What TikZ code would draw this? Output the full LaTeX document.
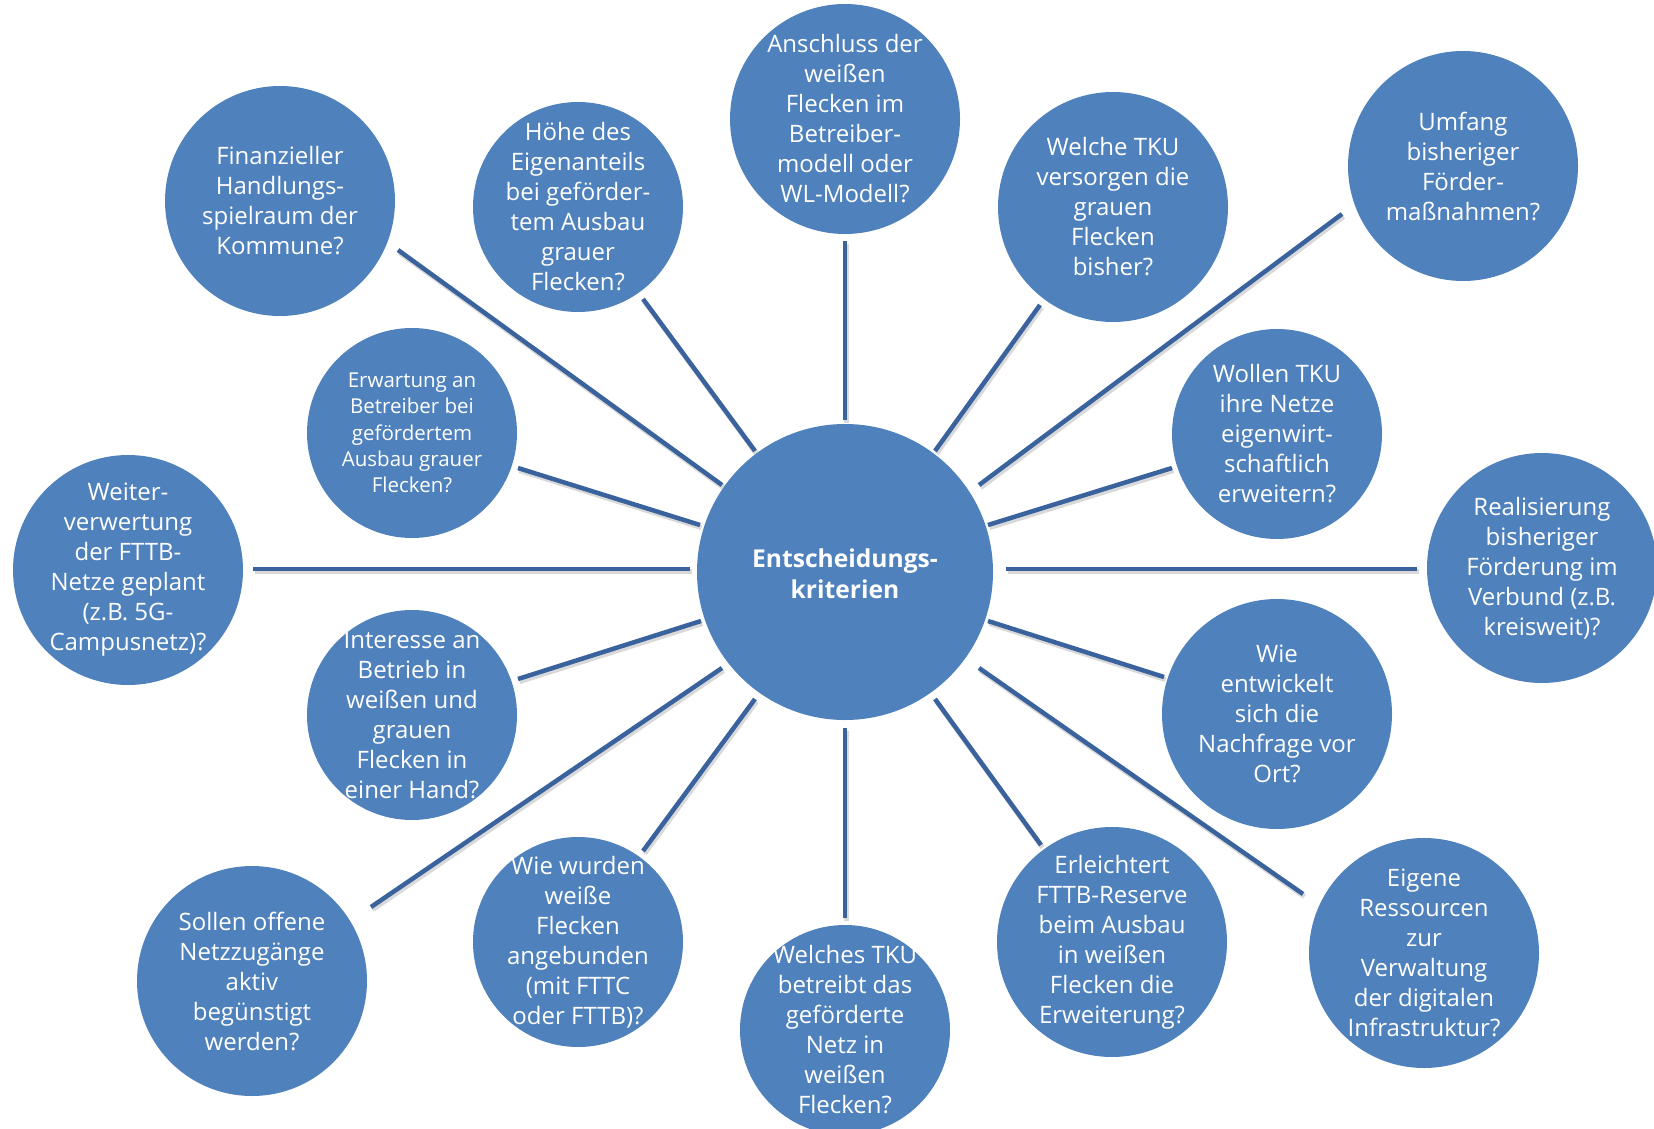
\documentclass[tikz,border=0pt]{standalone}
\usepackage{fontspec}
\setmainfont{Open Sans}
\definecolor{bubble}{RGB}{79,129,189}
\definecolor{linkc}{RGB}{58,99,158}
\newcommand{\drawlink}[2]{%
  \draw[lshadow] ([shift={(1.5,2.5)}]#1) -- ([shift={(1.5,2.5)}]#2);
  \draw[conn] (#1) -- (#2);}
\begin{document}
\begin{tikzpicture}[x=0.5pt,y=-0.5pt,
  bub/.style={circle, fill=bubble, draw=none, inner sep=0pt},
  bigbub/.style={bub, minimum size=115pt},
  midbub/.style={bub, minimum size=105pt},
  txt/.style={text=white, align=center, inner sep=0pt, font=\fontsize{12pt}{15pt}\selectfont},
  txtsmall/.style={txt, font=\fontsize{10.25pt}{13.2pt}\selectfont},
  txtcenter/.style={txt, font=\fontsize{12.3pt}{15.6pt}\selectfont\bfseries},
  conn/.style={draw=linkc, line width=2.25pt},
  lshadow/.style={draw=black, opacity=0.15, line width=2.6pt}]
\useasboundingbox (0,0) rectangle (1654,1129);
\fill[white] (0,0) rectangle (1654,1129);

% connector end points
\coordinate (l1a) at (398,250);  \coordinate (l1b) at (722,485);
\coordinate (l2a) at (643,299);  \coordinate (l2b) at (755,451);
\coordinate (l3a) at (845,241);  \coordinate (l3b) at (845,420);
\coordinate (l4a) at (1040,305); \coordinate (l4b) at (935,451);
\coordinate (l5a) at (1342,214); \coordinate (l5b) at (979,485);
\coordinate (l6a) at (518,468);  \coordinate (l6b) at (700,525);
\coordinate (l7a) at (1172,468); \coordinate (l7b) at (988,525);
\coordinate (l8a) at (253,569);  \coordinate (l8b) at (690,569);
\coordinate (l9a) at (1006,569); \coordinate (l9b) at (1417,569);
\coordinate (l10a) at (518,679); \coordinate (l10b) at (701,621);
\coordinate (l11a) at (988,621); \coordinate (l11b) at (1164,677);
\coordinate (l12a) at (371,907); \coordinate (l12b) at (722,668);
\coordinate (l13a) at (643,851); \coordinate (l13b) at (755,699);
\coordinate (l14a) at (845,728); \coordinate (l14b) at (845,918);
\coordinate (l15a) at (935,699); \coordinate (l15b) at (1041,845);
\coordinate (l16a) at (979,668); \coordinate (l16b) at (1303,894);

\drawlink{l1a}{l1b}
\drawlink{l2a}{l2b}
\drawlink{l3a}{l3b}
\drawlink{l4a}{l4b}
\drawlink{l5a}{l5b}
\drawlink{l6a}{l6b}
\drawlink{l7a}{l7b}
\drawlink{l8a}{l8b}
\drawlink{l9a}{l9b}
\drawlink{l10a}{l10b}
\drawlink{l11a}{l11b}
\drawlink{l12a}{l12b}
\drawlink{l13a}{l13b}
\drawlink{l14a}{l14b}
\drawlink{l15a}{l15b}
\drawlink{l16a}{l16b}

% centre
\node[bub, minimum size=148pt] (c) at (845,572) {};
\node[txtcenter] (c-t) at (845,574) {Entscheidungs-\\kriterien};

% outer circles
\node[bigbub] (n1) at (280,201) {};
\node[txt] (n1-t) at (n1) {Finanzieller\\Handlungs-\\spielraum der\\Kommune?};

\node[midbub] (n2) at (578,207) {};
\node[txt] (n2-t) at (n2) {Höhe des\\Eigenanteils\\bei geförder-\\tem Ausbau\\grauer\\Flecken?};

\node[bigbub] (n3) at (845,119) {};
\node[txt] (n3-t) at (n3) {Anschluss der\\weißen\\Flecken im\\Betreiber-\\modell oder\\WL-Modell?};

\node[bigbub] (n4) at (1113,207) {};
\node[txt] (n4-t) at (n4) {Welche TKU\\versorgen die\\grauen\\Flecken\\bisher?};

\node[bigbub] (n5) at (1463,166) {};
\node[txt] (n5-t) at (n5) {Umfang\\bisheriger\\Förder-\\maßnahmen?};

\node[midbub] (n6) at (412,433) {};
\node[txtsmall] (n6-t) at (n6) {Erwartung an\\Betreiber bei\\gefördertem\\Ausbau grauer\\Flecken?};

\node[midbub] (n7) at (1277,434) {};
\node[txt] (n7-t) at (n7) {Wollen TKU\\ihre Netze\\eigenwirt-\\schaftlich\\erweitern?};

\node[bigbub] (n8) at (128,570) {};
\node[txt] (n8-t) at (n8) {Weiter-\\verwertung\\der FTTB-\\Netze geplant\\(z.B. 5G-\\Campusnetz)?};

\node[bigbub] (n9) at (1542,568) {};
\node[txt] (n9-t) at (n9) {Realisierung\\bisheriger\\Förderung im\\Verbund (z.B.\\kreisweit)?};

\node[midbub] (n10) at (412,715) {};
\node[txt] (n10-t) at (n10) {Interesse an\\Betrieb in\\weißen und\\grauen\\Flecken in\\einer Hand?};

\node[bigbub] (n11) at (1277,714) {};
\node[txt] (n11-t) at (n11) {Wie\\entwickelt\\sich die\\Nachfrage vor\\Ort?};

\node[bigbub] (n12) at (252,981) {};
\node[txt] (n12-t) at (n12) {Sollen offene\\Netzzugänge\\aktiv\\begünstigt\\werden?};

\node[midbub] (n13) at (578,942) {};
\node[txt] (n13-t) at (n13) {Wie wurden\\weiße\\Flecken\\angebunden\\(mit FTTC\\oder FTTB)?};

\node[midbub] (n14) at (845,1030) {};
\node[txt] (n14-t) at (n14) {Welches TKU\\betreibt das\\geförderte\\Netz in\\weißen\\Flecken?};

\node[bigbub] (n15) at (1112,942) {};
\node[txt] (n15-t) at (n15) {Erleichtert\\FTTB-Reserve\\beim Ausbau\\in weißen\\Flecken die\\Erweiterung?};

\node[bigbub] (n16) at (1424,953) {};
\node[txt] (n16-t) at (n16) {Eigene\\Ressourcen\\zur\\Verwaltung\\der digitalen\\Infrastruktur?};
\end{tikzpicture}
\end{document}
